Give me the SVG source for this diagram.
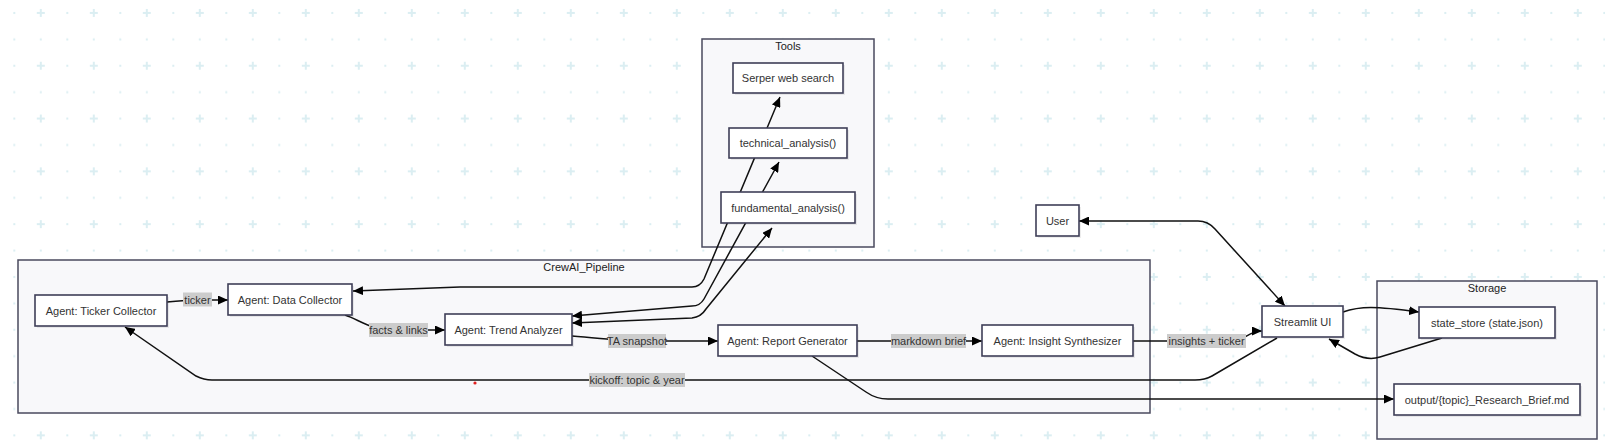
<svg xmlns="http://www.w3.org/2000/svg" width="1605" height="448" viewBox="0 0 1605 448">
<defs>
<pattern id="grid" patternUnits="userSpaceOnUse" x="0" y="0" width="53" height="52.8">
<rect x="13.3" y="12" width="2" height="2" fill="#dbeef2"/>
<rect x="13.3" y="38.4" width="2" height="2" fill="#dbeef2"/>
<rect x="39.8" y="38.4" width="2" height="2" fill="#dbeef2"/>
<path d="M36.8,13 h8 M40.8,9 v8" stroke="#dbeef2" stroke-width="2"/>
</pattern>
<marker id="arr" viewBox="0 0 10 10" refX="10" refY="5" markerWidth="10" markerHeight="9" markerUnits="userSpaceOnUse" orient="auto-start-reverse" preserveAspectRatio="none">
<path d="M0,0 L10,5 L0,10 z" fill="#000"/>
</marker>
</defs>
<style>
.cl{fill:#f8f8fa;stroke:#4a4a5e;stroke-width:1.5}
.cll{font-family:"Liberation Sans",Arial,sans-serif;font-size:11px;fill:#222;text-anchor:middle;dominant-baseline:central}
.nd rect.b{fill:#fff;stroke:#3f3f58;stroke-width:1.6}
.nd rect.s{fill:#000;fill-opacity:0.07}
.nd text{font-family:"Liberation Sans",Arial,sans-serif;font-size:11px;fill:#333;text-anchor:middle;dominant-baseline:central}
.e{fill:none;stroke:#111;stroke-width:1.5}
.lb rect{fill:#cccccc}
.lb text{font-family:"Liberation Sans",Arial,sans-serif;font-size:11px;fill:#333;text-anchor:middle;dominant-baseline:central}
</style>
<rect width="1605" height="448" fill="#fff"/>
<rect width="1605" height="448" fill="url(#grid)"/>

<g id="clusters">
<g id="cluster-tools"><rect class="cl" x="702" y="39" width="172" height="208"/><text class="cll" x="788" y="46">Tools</text></g>
<g id="cluster-crewai"><rect class="cl" x="18" y="260" width="1132" height="153"/><text class="cll" x="584" y="267">CrewAI_Pipeline</text></g>
<g id="cluster-storage"><rect class="cl" x="1377" y="281" width="220" height="158"/><text class="cll" x="1487" y="288">Storage</text></g>
</g>

<g id="connectors">
<path class="e" d="M167,302 C190,299 205,300 228,300" marker-end="url(#arr)"/>
<path class="e" d="M345,315 C360,320 370,330 395,330 L445,330" marker-end="url(#arr)"/>
<path class="e" d="M572,336 C600,338 620,341 640,341 L718,341" marker-end="url(#arr)"/>
<path class="e" d="M857,341 L982,341" marker-end="url(#arr)"/>
<path class="e" d="M1133,341 L1232,341 C1245,341 1248,331 1262,331" marker-end="url(#arr)"/>
<path class="e" d="M1277,338 L1212,376 Q1205,380 1195,380 L212,380 Q204,380 196,376 L125,327" marker-end="url(#arr)"/>
<path class="e" d="M812,356 L866,392 Q876,399 888,399 L1394,399" marker-end="url(#arr)"/>
<path class="e" d="M1343,312 C1360,306 1375,306 1419,312" marker-end="url(#arr)"/>
<path class="e" d="M1442,338 L1380,357 Q1368,361 1355,354 L1329,339" marker-end="url(#arr)"/>
<path class="e" d="M1079,221 L1198,221 Q1208,221 1215,229 L1285,306" marker-start="url(#arr)" marker-end="url(#arr)"/>
<path class="e" d="M353,291 L460,287 L692,287 Q700,287 704,279 L780,97" marker-start="url(#arr)" marker-end="url(#arr)"/>
<path class="e" d="M572,316 L692,306 Q700,306 704,299 L779,162" marker-start="url(#arr)" marker-end="url(#arr)"/>
<path class="e" d="M572,323 L692,318 Q701,317 706,309 L772,228" marker-start="url(#arr)" marker-end="url(#arr)"/>
</g>

<g id="n-serper" class="nd"><rect class="s" x="735" y="65" width="110" height="30"/><rect class="b" x="733" y="63" width="110" height="30"/><text x="788" y="78">Serper web search</text></g>
<g id="n-technical" class="nd"><rect class="s" x="731" y="130" width="118" height="30"/><rect class="b" x="729" y="128" width="118" height="30"/><text x="788" y="143">technical_analysis()</text></g>
<g id="n-fundamental" class="nd"><rect class="s" x="723" y="194" width="134" height="31"/><rect class="b" x="721" y="192" width="134" height="31"/><text x="788" y="207.5">fundamental_analysis()</text></g>
<g id="n-ticker" class="nd"><rect class="s" x="37" y="297" width="132" height="31"/><rect class="b" x="35" y="295" width="132" height="31"/><text x="101" y="310.5">Agent: Ticker Collector</text></g>
<g id="n-datacollector" class="nd"><rect class="s" x="230" y="286" width="124" height="31"/><rect class="b" x="228" y="284" width="124" height="31"/><text x="290" y="299.5">Agent: Data Collector</text></g>
<g id="n-trend" class="nd"><rect class="s" x="447" y="316" width="127" height="31"/><rect class="b" x="445" y="314" width="127" height="31"/><text x="508.5" y="329.5">Agent: Trend Analyzer</text></g>
<g id="n-report" class="nd"><rect class="s" x="720" y="327" width="139" height="31"/><rect class="b" x="718" y="325" width="139" height="31"/><text x="787.5" y="340.5">Agent: Report Generator</text></g>
<g id="n-insight" class="nd"><rect class="s" x="984" y="327" width="151" height="31"/><rect class="b" x="982" y="325" width="151" height="31"/><text x="1057.5" y="340.5">Agent: Insight Synthesizer</text></g>
<g id="n-user" class="nd"><rect class="s" x="1038" y="207" width="43" height="31"/><rect class="b" x="1036" y="205" width="43" height="31"/><text x="1057.5" y="220.5">User</text></g>
<g id="n-streamlit" class="nd"><rect class="s" x="1264" y="308" width="81" height="31"/><rect class="b" x="1262" y="306" width="81" height="31"/><text x="1302.5" y="321.5">Streamlit UI</text></g>
<g id="n-state" class="nd"><rect class="s" x="1421" y="309" width="136" height="31"/><rect class="b" x="1419" y="307" width="136" height="31"/><text x="1487" y="322.5">state_store (state.json)</text></g>
<g id="n-output" class="nd"><rect class="s" x="1396" y="386" width="186" height="31"/><rect class="b" x="1394" y="384" width="186" height="31"/><text x="1487" y="399.5">output/{topic}_Research_Brief.md</text></g>

<g id="edge-labels">
<g class="lb"><rect x="183" y="292.5" width="29" height="14"/><text x="197.5" y="299.5">ticker</text></g>
<g class="lb"><rect x="369" y="323" width="59" height="14"/><text x="398.5" y="330">facts &amp; links</text></g>
<g class="lb"><rect x="608" y="334" width="58" height="14"/><text x="637" y="341">TA snapshot</text></g>
<g class="lb"><rect x="891" y="334" width="75" height="14"/><text x="928.5" y="341">markdown brief</text></g>
<g class="lb"><rect x="1167" y="334" width="79" height="14"/><text x="1206.5" y="341">insights + ticker</text></g>
<g class="lb"><rect x="589" y="373" width="96" height="14"/><text x="637" y="380">kickoff: topic &amp; year</text></g>
</g>
<circle cx="475" cy="383" r="1.6" fill="#e02020"/>
</svg>
